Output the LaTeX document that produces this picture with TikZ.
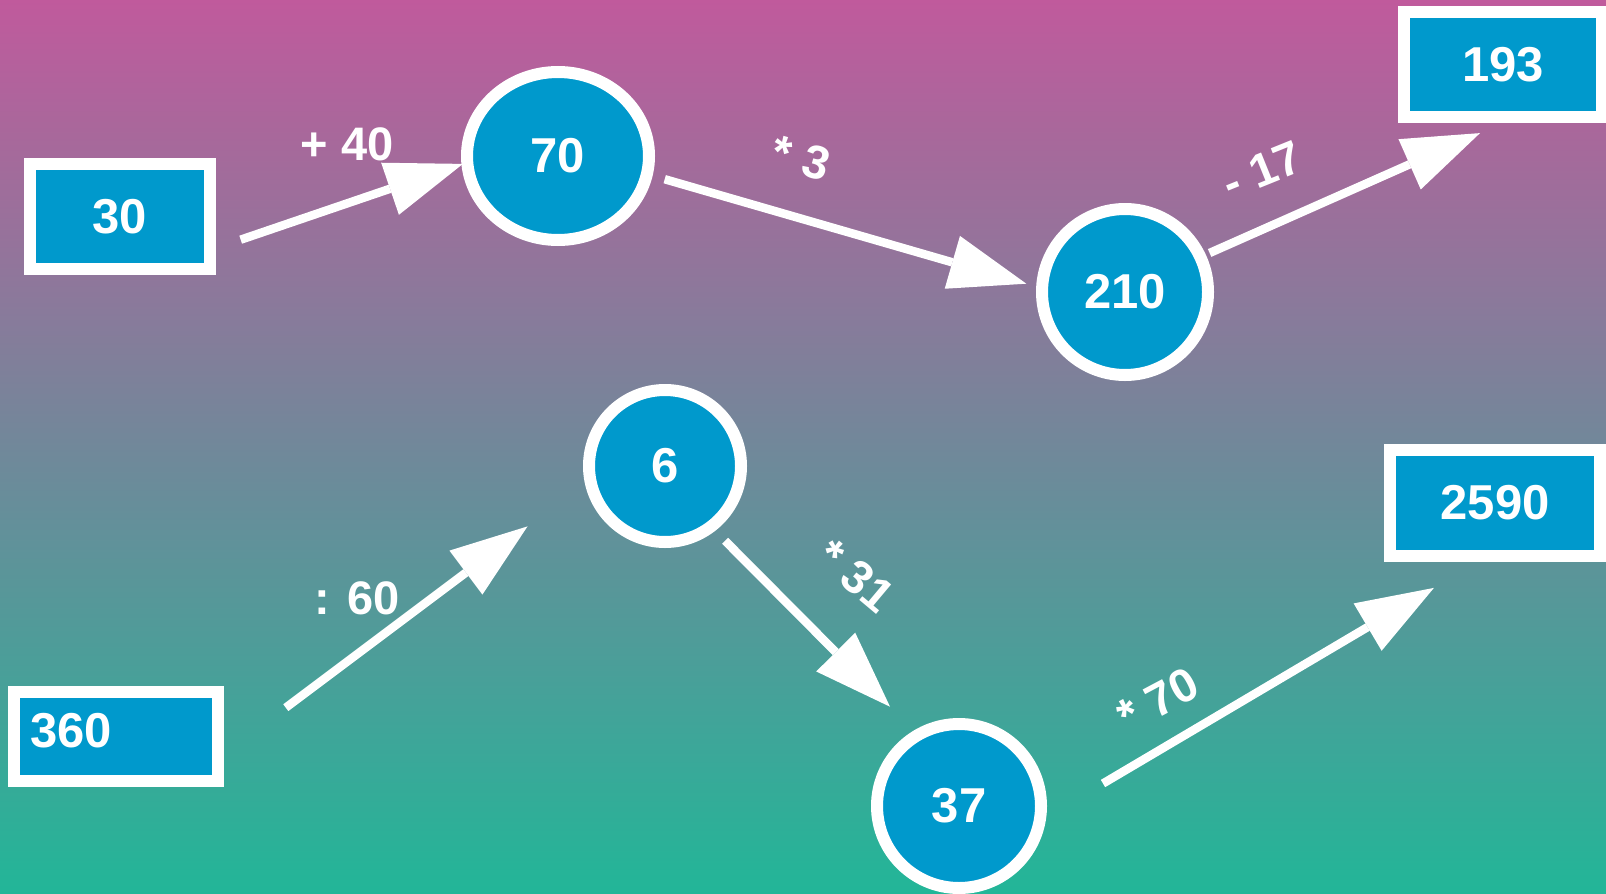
\documentclass[tikz,border=0pt]{standalone}
\usepackage{fontspec}
\setmainfont{Liberation Sans}
\usetikzlibrary{arrows.meta,shapes.geometric}
\definecolor{bgtop}{RGB}{192,90,156}
\definecolor{bgbot}{RGB}{34,182,152}
\definecolor{nodeblue}{RGB}{0,153,204}
\tikzset{
  numbox/.style={rectangle, draw=white, line width=12pt, fill=nodeblue, inner sep=0pt, text=white, font=\fontsize{49}{49}\selectfont\bfseries},
  numcirc/.style={numbox, circle},
  numoval/.style={numbox, ellipse},
  opline/.style={draw=white, line width=8.5pt, -{Triangle[length=77pt,width=55pt,line width=0pt]}},
  oplabel/.style={text=white, inner sep=0pt, font=\fontsize{47}{47}\selectfont\bfseries}
}
\begin{document}
\begin{tikzpicture}[x=1pt,y=-1pt]
	\useasboundingbox (0,0) rectangle (1606,894);
	\fill [top color=bgtop, bottom color=bgbot] (0,0) rectangle (1606,894);

	\node [numbox, minimum width=180pt, minimum height=105pt] (n30) at (120,216.5) {30};
	\node [numoval, minimum width=182pt, minimum height=168pt] (n70) at (558,156) {70};
	\node [numcirc, minimum size=166pt] (n210) at (1125,292) {210};
	\node [numbox, minimum width=198pt, minimum height=105pt] (n193) at (1503,64.5) {193};
	\node [numbox, minimum height=89pt, text width=172pt, text depth=12pt, inner xsep=16pt, align=left] (n360) at (116,736.5) {360};
	\node [numcirc, minimum size=152pt] (n6) at (665,466) {6};
	\node [numcirc, minimum size=164pt] (n37) at (959,806) {37};
	\node [numbox, minimum width=210pt, minimum height=105.5pt] (n2590) at (1495,503) {2590};

	\coordinate (from30) at (240.7,239.7);
	\coordinate (to70) at (462.9,163.9);
	\coordinate (from70) at (664.7,179.2);
	\coordinate (to210) at (1026.3,283.7);
	\coordinate (from210) at (1209.6,253);
	\coordinate (to193) at (1480,133.1);
	\coordinate (from360) at (285.8,707.7);
	\coordinate (to6) at (527.5,526.4);
	\coordinate (from6) at (725.1,540.8);
	\coordinate (to37) at (890,706.7);
	\coordinate (from37) at (1103,783.5);
	\coordinate (to2590) at (1433.9,587.9);

	\draw [opline] (from30) -- (to70);
	\draw [opline] (from70) -- (to210);
	\draw [opline] (from210) -- (to193);
	\draw [opline] (from360) -- (to6);
	\draw [opline] (from6) -- (to37);
	\draw [opline] (from37) -- (to2590);

	\node [oplabel] (l40) at (347,144) {+ 40};
	\node [oplabel, rotate=-16] (l3) at (801,158) {* 3};
	\node [oplabel, rotate=22] (l17) at (1262,170) {- 17};
	\node [oplabel] (l60) at (357,598) {: 60};
	\node [oplabel, rotate=-40] (l31) at (856,576) {* 31};
	\node [oplabel, rotate=28] (l70) at (1158,700) {* 70};
\end{tikzpicture}
\end{document}
